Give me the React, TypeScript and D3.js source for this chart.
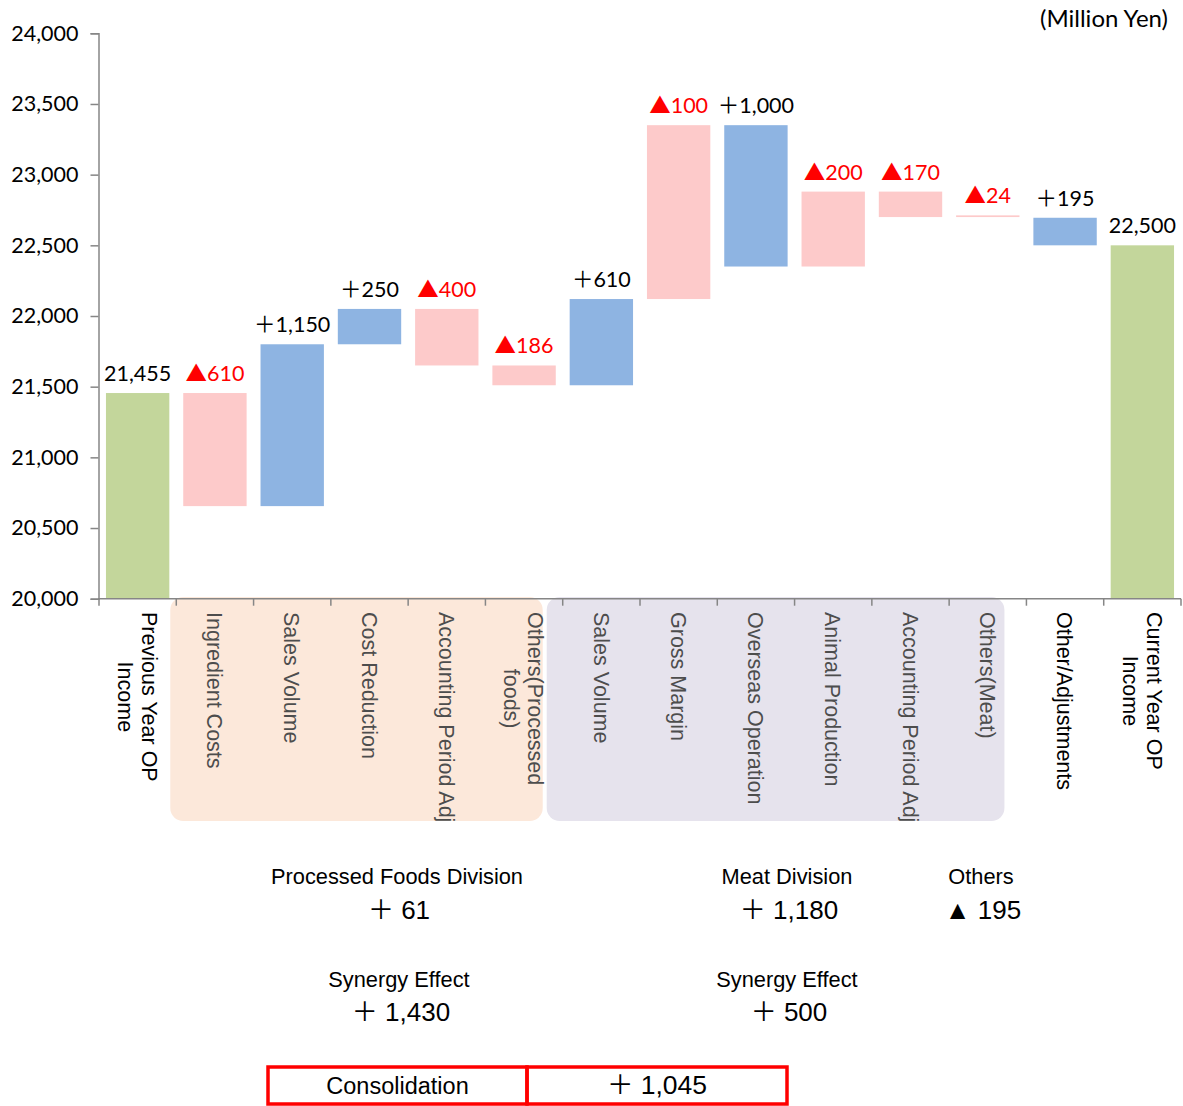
import { useEffect, useRef } from 'react';
import * as d3 from 'd3';

// Categories (\n = line break in the axis label)
const categories = [
  'Previous Year OP\nIncome',
  'Ingredient Costs',
  'Sales Volume',
  'Cost Reduction',
  'Accounting Period Adj',
  'Others(Processed\nfoods)',
  'Sales Volume',
  'Gross Margin',
  'Overseas Operation',
  'Animal Production',
  'Accounting Period Adj',
  'Others(Meat)',
  'Other/Adjustments',
  'Current Year OP\nIncome',
];

// Floating bar extents (Million Yen)
const barFrom = [20000, 21455, 20655, 21800, 22050, 21650, 21510, 22120, 23350, 22350, 22880, 22700, 22500, 20000];
const barTo = [21455, 20655, 21800, 22050, 21650, 21510, 22120, 23350, 22350, 22880, 22700, 22712, 22695, 22500];
const barKind = ['total', 'neg', 'pos', 'pos', 'neg', 'neg', 'pos', 'neg', 'pos', 'neg', 'neg', 'neg', 'pos', 'total'];
const barLabels = ['21,455', '▲610', '＋1,150', '＋250', '▲400', '▲186', '＋610', '▲100', '＋1,000', '▲200', '▲170', '▲24', '＋195', '22,500'];

// Which category belongs to which shaded division band
const categoryGroup = ['', 'pf', 'pf', 'pf', 'pf', 'pf', 'meat', 'meat', 'meat', 'meat', 'meat', 'meat', '', ''];

const yTicks = [20000, 20500, 21000, 21500, 22000, 22500, 23000, 23500, 24000];

// Summary block under the chart
const divisionTitles = ['Processed Foods Division', 'Meat Division', 'Others'];
const divisionValues = ['＋ 61', '＋ 1,180', '▲ 195'];
const synergyTitles = ['Synergy Effect', 'Synergy Effect'];
const synergyValues = ['＋ 1,430', '＋ 500'];
const consolidation = ['Consolidation', '＋ 1,045'];

const colors: Record<string, string> = { total: '#c3d69b', neg: '#fdcaca', pos: '#8eb4e2' };
const labelFont = "Lato, 'Noto Sans CJK JP', sans-serif";
const arialFont = "'Liberation Sans', Arial, 'Noto Sans CJK JP', sans-serif";

export default function App() {
  const svgRef = useRef<SVGSVGElement>(null);

  useEffect(() => {
    if (!svgRef.current) return;
    const svg = d3.select(svgRef.current);
    svg.selectAll('*').remove();

    const idx = categories.map((_, i) => i);
    const x = d3.scaleBand<number>()
      .domain(idx)
      .range([99, 1181])
      .paddingInner(0.18)
      .paddingOuter(0.09);
    const y = d3.scaleLinear().domain([20000, 24000]).range([598.7, 33.3]);
    const step = x.step();
    const slotLeft = (i: number) => x(i)! - step * 0.09;

    // Division bands behind the axis labels
    const bands = [
      { key: 'pf', fill: '#fce8da', padL: 6, padR: 20 },
      { key: 'meat', fill: '#e6e3ed', padL: 16, padR: 22 },
    ];
    bands.forEach(b => {
      const members = idx.filter(i => categoryGroup[i] === b.key);
      const x0 = slotLeft(members[0]) - b.padL;
      const x1 = slotLeft(members[members.length - 1]) + step - b.padR;
      svg.append('rect')
        .attr('x', x0)
        .attr('y', 597)
        .attr('width', x1 - x0)
        .attr('height', 224)
        .attr('rx', 13)
        .attr('fill', b.fill);
    });

    // Bars
    svg.append('g')
      .selectAll('rect')
      .data(idx)
      .join('rect')
      .attr('x', i => x(i)!)
      .attr('width', x.bandwidth())
      .attr('y', i => y(Math.max(barFrom[i], barTo[i])))
      .attr('height', i => Math.max(1.5, Math.abs(y(barFrom[i]) - y(barTo[i]))))
      .attr('fill', i => colors[barKind[i]]);

    // Bar value labels
    svg.append('g')
      .selectAll('text')
      .data(idx)
      .join('text')
      .attr('x', i => x(i)! + x.bandwidth() / 2)
      .attr('y', i => y(Math.max(barFrom[i], barTo[i])) - 12)
      .attr('text-anchor', 'middle')
      .attr('font-family', labelFont)
      .attr('font-size', 21.5)
      .attr('fill', i => (barKind[i] === 'neg' ? '#ff0000' : '#000'))
      .text(i => barLabels[i]);

    // Y axis
    const yAxis = svg.append('g')
      .attr('transform', 'translate(98.5,0)')
      .call(d3.axisLeft(y).tickValues(yTicks).tickFormat(d3.format(',') as any).tickSize(8).tickPadding(12));
    yAxis.select('.domain').attr('stroke', '#868686').attr('stroke-width', 1.5);
    yAxis.selectAll('.tick line').attr('stroke', '#868686').attr('stroke-width', 1.5);
    yAxis.selectAll('.tick text')
      .attr('font-family', labelFont)
      .attr('font-size', 21.5)
      .attr('fill', '#000');

    // X axis line with boundary ticks
    const base = y(20000);
    svg.append('line')
      .attr('x1', 98).attr('x2', 1181)
      .attr('y1', base).attr('y2', base)
      .attr('stroke', '#868686').attr('stroke-width', 1.5);
    const boundaries = d3.range(categories.length + 1).map(k => 99 + k * step);
    svg.append('g')
      .selectAll('line')
      .data(boundaries)
      .join('line')
      .attr('x1', d => d).attr('x2', d => d)
      .attr('y1', base).attr('y2', base + 7)
      .attr('stroke', '#868686').attr('stroke-width', 1.5);

    // Rotated category labels
    const fs = 21.5;
    const lineH = 24;
    const capH = fs * 0.72;
    idx.forEach(i => {
      const lines = categories[i].split('\n');
      const cx = x(i)! + x.bandwidth() / 2;
      const g = svg.append('g')
        .attr('transform', `translate(${cx},612) rotate(90)`);
      const texts = lines.map((ln, k) =>
        g.append('text')
          .attr('y', capH / 2 + (k - (lines.length - 1) / 2) * lineH)
          .attr('font-family', arialFont)
          .attr('font-size', fs)
          .attr('fill', categoryGroup[i] ? '#4d4d4d' : '#000')
          .text(ln)
      );
      const widths = texts.map(t => (t.node() as SVGTextElement).getComputedTextLength());
      const w = d3.max(widths) || 0;
      texts.forEach(t => t.attr('x', w / 2).attr('text-anchor', 'middle'));
    });

    // Unit note
    svg.append('text')
      .attr('x', 1168).attr('y', 27)
      .attr('text-anchor', 'end')
      .attr('font-family', labelFont)
      .attr('font-size', 24)
      .text('(Million Yen)');

    // Summary block
    const divX = [397, 787, 981];
    divisionTitles.forEach((t, k) => {
      svg.append('text').attr('x', divX[k]).attr('y', 884)
        .attr('text-anchor', 'middle').attr('font-family', arialFont).attr('font-size', 21.8).text(t);
      svg.append('text').attr('x', divX[k] + 2).attr('y', 919)
        .attr('text-anchor', 'middle').attr('font-family', arialFont).attr('font-size', 26).text(divisionValues[k]);
    });
    const synX = [399, 787];
    synergyTitles.forEach((t, k) => {
      svg.append('text').attr('x', synX[k]).attr('y', 987)
        .attr('text-anchor', 'middle').attr('font-family', arialFont).attr('font-size', 21.8).text(t);
      svg.append('text').attr('x', synX[k] + 2).attr('y', 1021)
        .attr('text-anchor', 'middle').attr('font-family', arialFont).attr('font-size', 26).text(synergyValues[k]);
    });

    const boxes = [[268, 527], [527, 787]];
    boxes.forEach(([a, b], k) => {
      svg.append('rect')
        .attr('x', a).attr('y', 1067)
        .attr('width', b - a).attr('height', 37)
        .attr('fill', 'none').attr('stroke', '#ff0000').attr('stroke-width', 3.5);
      svg.append('text').attr('x', (a + b) / 2).attr('y', 1094)
        .attr('text-anchor', 'middle').attr('font-family', arialFont)
        .attr('font-size', k === 0 ? 23.5 : 26.5).text(consolidation[k]);
    });
  }, []);

  return (
    <svg
      ref={svgRef}
      width={1183}
      height={1106}
      style={{ position: 'absolute', left: 0, top: 0, background: '#fff' }}
    />
  );
}
